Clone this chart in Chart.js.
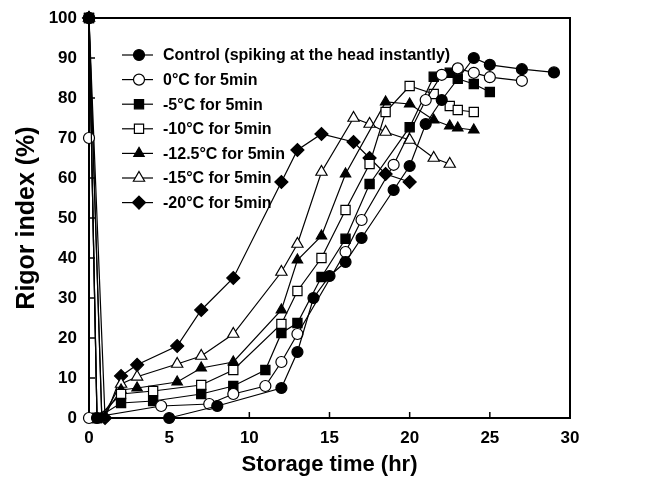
<!DOCTYPE html>
<html>
<head>
<meta charset="utf-8">
<script src="https://cdn.jsdelivr.net/npm/chart.js@4.4.0/dist/chart.umd.min.js"></script>
<style>
html,body{margin:0;padding:0;background:#fff;}
#wrap{width:661px;height:480px;}
</style>
</head>
<body>
<div id="wrap"><canvas id="c" width="661" height="480"></canvas></div>
<script>
// ---- data ----
const seriesLabels = [
  "Control (spiking at the head instantly)",
  "0°C for 5min",
  "-5°C for 5min",
  "-10°C for 5min",
  "-12.5°C for 5min",
  "-15°C for 5min",
  "-20°C for 5min"
];
const xControl = [0,0.5,5,8,12,13,14,15,16,17,19,20,21,22,24,25,27,29];
const yControl = [100,0,0,3,7.5,16.5,30,35.5,39,45,57,63,73.5,79.5,90,88.3,87.2,86.4];
const x0C = [0,0,0,4.5,7.5,9,11,12,13,16,17,19,21,22,23,24,25,27];
const y0C = [100,70,0,3,3.5,6,8,14,21,41.5,49.5,63.3,79.5,85.8,87.4,86.3,85.2,84.3];
const xM5 = [0,0.5,2,4,7,9,11,12,13,14.5,16,17.5,20,21.5,22.5,23,24,25];
const yM5 = [100,0,3.75,4.25,6,8,12,21.25,23.75,35.25,44.8,58.5,72.7,85.3,86.3,84.8,83.5,81.5];
const xM10 = [0,0.5,2,4,7,9,12,13,14.5,16,17.5,18.5,20,21.5,22.5,23,24];
const yM10 = [100,0,6,6.75,8.25,12,23.5,31.75,40,52,63.5,76.5,83,81,78,77,76.5];
const xM125 = [0,0.8,2,3,5.5,7,9,12,13,14.5,16,18.5,20,21.5,22.5,23,24];
const yM125 = [100,0,7,7.5,9,12.5,14,27,39.5,45.5,61,79,78.5,74.5,73,72.5,72];
const xM15 = [0,0.8,2,3,5.5,7,9,12,13,14.5,16.5,17.5,18.5,20,21.5,22.5];
const yM15 = [100,0,8.5,10.3,13.5,15.5,21,36.5,43.5,61.5,75,73.5,71.5,69.5,65,63.5];
const xM20 = [0,1,2,3,5.5,7,9,12,13,14.5,16.5,17.5,18.5,20];
const yM20 = [100,0,10.5,13.3,18,27,35,59,67,71,69,65,61,59];
const xTicks = [0,5,10,15,20,25,30];
const yTicks = [0,10,20,30,40,50,60,70,80,90,100];

const seriesX = [xControl,x0C,xM5,xM10,xM125,xM15,xM20];
const seriesY = [yControl,y0C,yM5,yM10,yM125,yM15,yM20];
const styles = [
  {ps:'circle', fill:true, r:5.5},
  {ps:'circle', fill:false, r:5.5},
  {ps:'rect', fill:true, r:6.5},
  {ps:'rect', fill:false, r:6.5},
  {ps:'triangle', fill:true, r:6},
  {ps:'triangle', fill:false, r:6.5},
  {ps:'rectRot', fill:true, r:6.5}
];

const datasets = seriesLabels.map((lab,i)=>({
  label: lab,
  data: seriesX[i].map((x,k)=>({x:x, y:seriesY[i][k]})),
  borderColor:'#000',
  borderWidth:1.2,
  pointStyle: styles[i].ps,
  pointRadius: styles[i].r,
  pointBackgroundColor: styles[i].fill ? '#000' : '#fff',
  pointBorderColor:'#000',
  pointBorderWidth:1.2,
  tension:0,
  clip:false,
  showLine:true
}));

function marker(ctx, st, x, y){
  const r = st.r;
  ctx.beginPath();
  if(st.ps==='circle'){ ctx.arc(x,y,r,0,Math.PI*2); }
  else if(st.ps==='rect'){ const s=r*Math.SQRT1_2; ctx.rect(x-s,y-s,2*s,2*s); }
  else if(st.ps==='rectRot'){ const s=r; ctx.moveTo(x,y-s); ctx.lineTo(x+s,y); ctx.lineTo(x,y+s); ctx.lineTo(x-s,y); ctx.closePath(); }
  else if(st.ps==='triangle'){ ctx.moveTo(x,y-r); ctx.lineTo(x+r*0.866,y+r*0.5); ctx.lineTo(x-r*0.866,y+r*0.5); ctx.closePath(); }
  ctx.fillStyle = st.fill ? '#000' : '#fff';
  ctx.fill();
  ctx.lineWidth=1.2; ctx.strokeStyle='#000'; ctx.stroke();
}

const frame = {
  id:'frame',
  beforeDatasetsDraw(chart){
    const {ctx, chartArea:a, scales} = chart;
    ctx.save();
    ctx.strokeStyle='#000';
    ctx.lineWidth=2;
    ctx.strokeRect(a.left,a.top,a.right-a.left,a.bottom-a.top);
    ctx.lineWidth=1.5;
    scales.x.ticks.forEach(t=>{
      const px = scales.x.getPixelForValue(t.value);
      ctx.beginPath(); ctx.moveTo(px,a.bottom); ctx.lineTo(px,a.bottom-6); ctx.stroke();
    });
    scales.y.ticks.forEach(t=>{
      const py = scales.y.getPixelForValue(t.value);
      ctx.beginPath(); ctx.moveTo(a.left,py); ctx.lineTo(a.left+6,py); ctx.stroke();
    });
    ctx.restore();
  },
  afterDraw(chart){
    const ctx = chart.ctx;
    ctx.save();
    ctx.font = 'bold 16px "Liberation Sans", Arial, sans-serif';
    ctx.textBaseline='middle';
    ctx.textAlign='left';
    seriesLabels.forEach((lab,i)=>{
      const yy = 55 + i*24.6;
      ctx.strokeStyle='#000'; ctx.lineWidth=1.2;
      ctx.beginPath(); ctx.moveTo(122,yy); ctx.lineTo(153,yy); ctx.stroke();
      marker(ctx, styles[i], 139, yy);
      ctx.fillStyle='#000';
      ctx.fillText(lab, 163, yy+1);
    });
    ctx.restore();
  }
};

new Chart(document.getElementById('c'), {
  type:'line',
  data:{datasets},
  plugins:[frame],
  options:{
    responsive:false,
    animation:false,
    devicePixelRatio:1,
    layout:{padding:{left:0,right:91,top:18,bottom:0}},
    plugins:{legend:{display:false}, tooltip:{enabled:false}},
    scales:{
      x:{
        type:'linear', min:0, max:30,
        afterBuildTicks(s){ s.ticks = xTicks.map(v=>({value:v})); },
        afterFit(s){ s.height = 62; s.paddingLeft = 0; s.paddingRight = 0; },
        grid:{display:false, drawTicks:false},
        border:{display:false},
        ticks:{color:'#000', font:{family:'"Liberation Sans", Arial', size:17, weight:'bold'}, padding:10, maxRotation:0},
        title:{display:true, text:'Storage time (hr)', color:'#000', font:{family:'"Liberation Sans", Arial', size:22, weight:'bold'}, padding:{top:0,bottom:2}}
      },
      y:{
        type:'linear', min:0, max:100,
        afterBuildTicks(s){ s.ticks = yTicks.map(v=>({value:v})); },
        afterFit(s){ s.width = 89; s.paddingTop = 0; s.paddingBottom = 0; },
        grid:{display:false, drawTicks:false},
        border:{display:false},
        ticks:{color:'#000', font:{family:'"Liberation Sans", Arial', size:17, weight:'bold'}, padding:12},
        title:{display:true, text:'Rigor index (%)', color:'#000', font:{family:'"Liberation Sans", Arial', size:25, weight:'bold'}, padding:{top:12,bottom:0}}
      }
    }
  }
});
</script>
</body>
</html>
